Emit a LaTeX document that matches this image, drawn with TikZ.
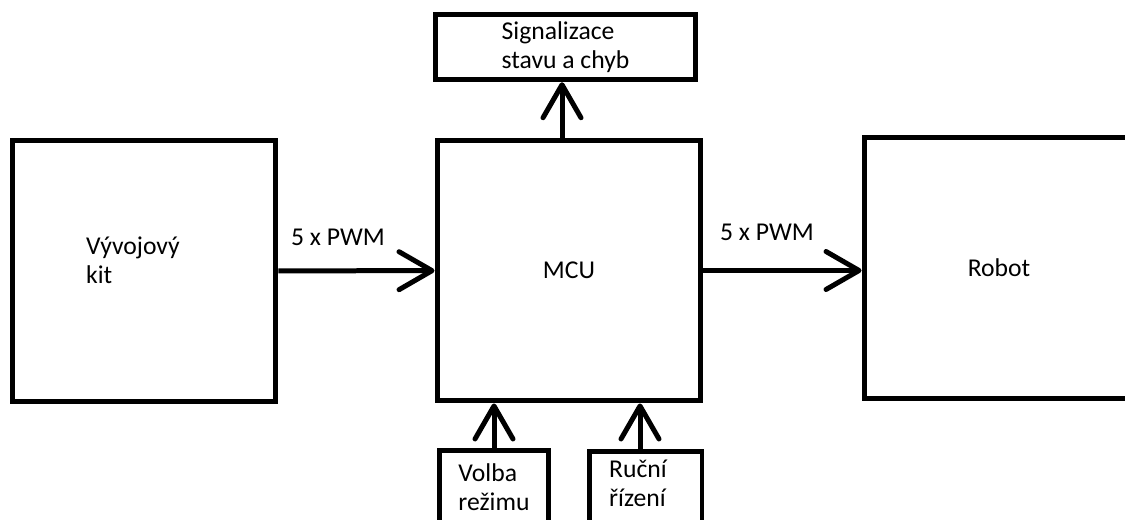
\documentclass[tikz,border=0pt]{standalone}
\usepackage{fontspec}
\setmainfont{Carlito}
\usetikzlibrary{arrows.meta}

\begin{document}
\begin{tikzpicture}[x=0.02cm, y=-0.02cm, >={Straight Barb[length=6.6mm,width=7.6mm,round]},
    box/.style={draw, line width=1mm, inner sep=0pt, align=left, font=\fontsize{14.6}{16.5}\selectfont},
    txt/.style={inner sep=0pt, align=left, font=\fontsize{14.6}{16.5}\selectfont},
    link/.style={->, line width=1mm}]

    \useasboundingbox (0,0) rectangle (1125,520);

    % main blocks
    \node[box, minimum width=5.28cm, minimum height=5.24cm] (kit) at (144,271) {};
    \node[txt] (kittxt) at (133,260) {Vývojový\\kit};
    \node[box, minimum width=5.28cm, minimum height=5.22cm] (mcu) at (569,270.5) {MCU};
    \node[box, minimum width=5.4cm, minimum height=5.24cm] (robot) at (999,268) {Robot};

    % small blocks
    \node[box, minimum width=5.22cm, minimum height=1.31cm] (sig) at (565.5,47) {Signalizace\\stavu a chyb};
    \node[box, minimum width=2.2cm, minimum height=1.5cm] (volba) at (494,487.5) {Volba\\režimu};
    \node[box, minimum width=2.26cm, minimum height=1.48cm] (rucni) at (645.5,488) {};
    \node[txt] (rucnitxt) at (638,483) {Ruční\\řízení};

    % signals
    \draw[link] (kit) -- (mcu);
    \draw[link] (mcu.east) -- (mcu.east -| robot.west);
    \draw[link] ([xshift=-0.07cm]sig.south |- mcu.north) -- ([xshift=-0.07cm]sig.south);
    \draw[link] (volba.north) -- (volba.north |- mcu.south);
    \draw[link] ([xshift=-0.11cm]rucni.north) -- ([xshift=-0.11cm]rucni.north |- mcu.south);

    \node[txt] (pwmin) at (338,237) {5 x PWM};
    \node[txt] (pwmout) at (767,232) {5 x PWM};

\end{tikzpicture}
\end{document}
